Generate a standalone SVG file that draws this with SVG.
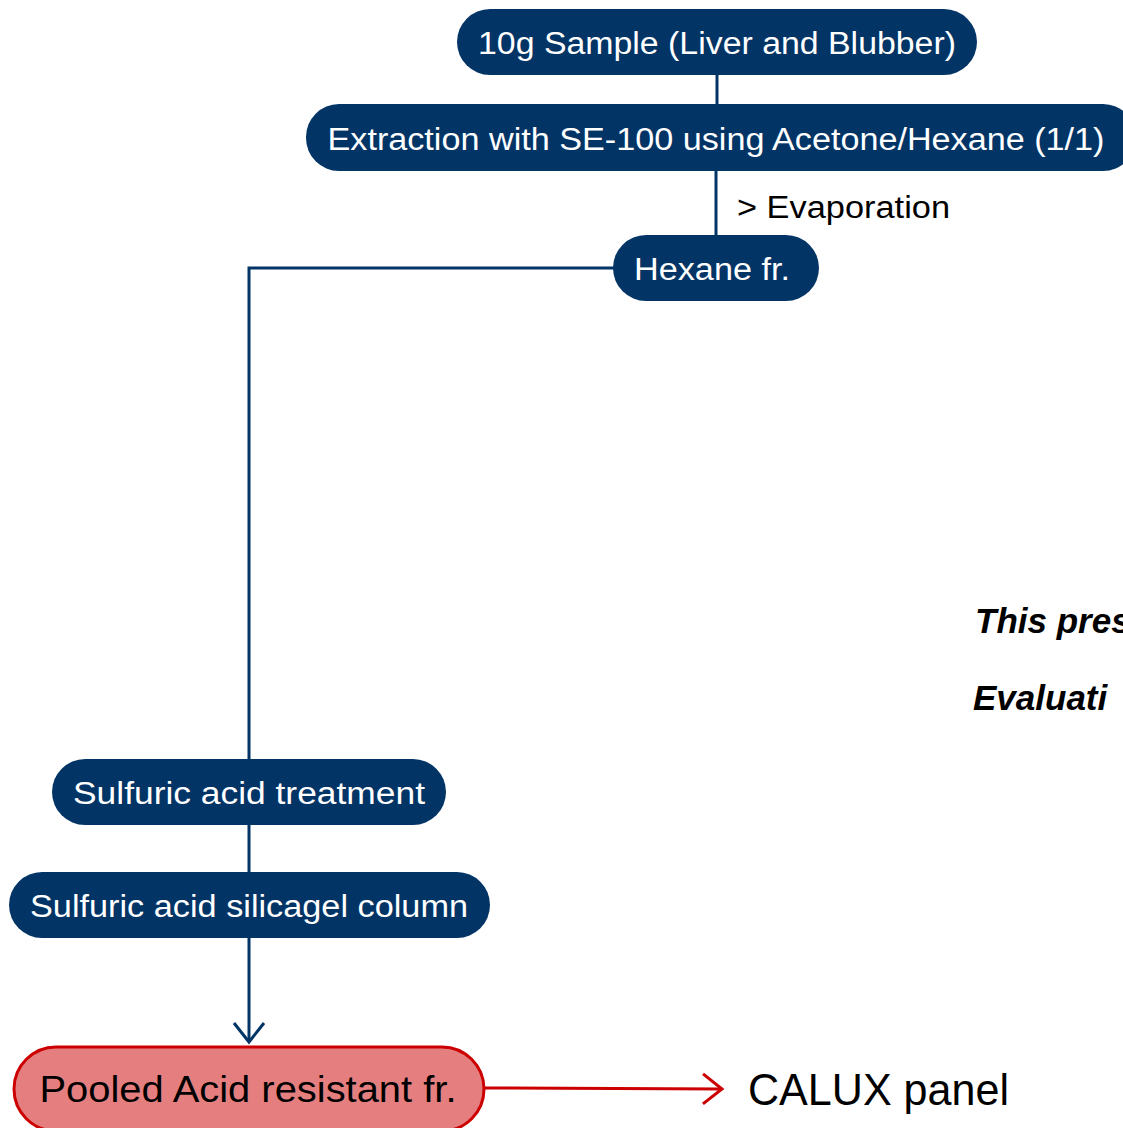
<svg xmlns="http://www.w3.org/2000/svg" width="1123" height="1128" viewBox="0 0 1123 1128">
<defs>
<style>
.n{fill:#023466;}
.t{font-family:"Liberation Sans",Arial,sans-serif;font-size:31px;fill:#ffffff;}
.b{font-family:"Liberation Sans",Arial,sans-serif;fill:#000000;}
.c{fill:none;stroke:#023466;stroke-width:3;}
.r{fill:none;stroke:#cc0000;stroke-width:3;}
.i{font-family:"Liberation Sans",Arial,sans-serif;font-size:35px;font-weight:bold;font-style:italic;fill:#000;}
</style>
<marker id="ab" viewBox="0 0 24 34" refX="21" refY="17" markerWidth="24" markerHeight="34" markerUnits="userSpaceOnUse" orient="auto"><path d="M2,2 L21,17 L2,32" fill="none" stroke="#023466" stroke-width="3"/></marker>
<marker id="ar" viewBox="0 0 24 34" refX="21" refY="17" markerWidth="24" markerHeight="34" markerUnits="userSpaceOnUse" orient="auto"><path d="M2,2 L21,17 L2,32" fill="none" stroke="#cc0000" stroke-width="3"/></marker>
</defs>
<rect width="1123" height="1128" fill="#ffffff"/>
<g id="connectors">
<line class="c" x1="717" y1="74" x2="717" y2="105"/>
<line class="c" x1="716" y1="170" x2="716" y2="236"/>
<polyline class="c" points="614,268 249,268 249,760"/>
<line class="c" x1="249" y1="824" x2="249" y2="873"/>
<line class="c" x1="249" y1="937" x2="249" y2="1042" marker-end="url(#ab)"/>
<line class="r" x1="484" y1="1088" x2="722" y2="1089" marker-end="url(#ar)"/>
</g>
<g id="n1"><rect class="n" x="457" y="9" width="520" height="66" rx="33"/><text class="t" x="717" y="54" text-anchor="middle" textLength="478" lengthAdjust="spacingAndGlyphs">10g Sample (Liver and Blubber)</text></g>
<g id="n2"><rect class="n" x="306" y="104" width="830" height="67" rx="33"/><text class="t" x="716" y="150" text-anchor="middle" textLength="777" lengthAdjust="spacingAndGlyphs">Extraction with SE-100 using Acetone/Hexane (1/1)</text></g>
<g id="evap"><text class="b" x="737" y="218" font-size="31" textLength="213" lengthAdjust="spacingAndGlyphs">&gt; Evaporation</text></g>
<g id="n3"><rect class="n" x="613" y="235" width="206" height="66" rx="33"/><text class="t" x="712" y="280" text-anchor="middle" textLength="156" lengthAdjust="spacingAndGlyphs">Hexane fr.</text></g>
<g id="n4"><rect class="n" x="52" y="759" width="394" height="66" rx="33"/><text class="t" x="249" y="804" text-anchor="middle" textLength="352" lengthAdjust="spacingAndGlyphs">Sulfuric acid treatment</text></g>
<g id="n5"><rect class="n" x="9" y="872" width="481" height="66" rx="33"/><text class="t" x="249" y="917" text-anchor="middle" textLength="438" lengthAdjust="spacingAndGlyphs">Sulfuric acid silicagel column</text></g>
<g id="n6"><rect x="14" y="1047" width="470" height="84" rx="42" fill="#e57f7f" stroke="#cc0000" stroke-width="3"/><text class="b" x="248" y="1102" text-anchor="middle" font-size="36" textLength="417" lengthAdjust="spacingAndGlyphs">Pooled Acid resistant fr.</text></g>
<g id="calux"><text class="b" x="748" y="1105" font-size="44" textLength="261" lengthAdjust="spacingAndGlyphs">CALUX panel</text></g>
<g id="note"><text class="i" x="975" y="633">This pres</text><text class="i" x="973" y="710">Evaluati</text></g>
</svg>
